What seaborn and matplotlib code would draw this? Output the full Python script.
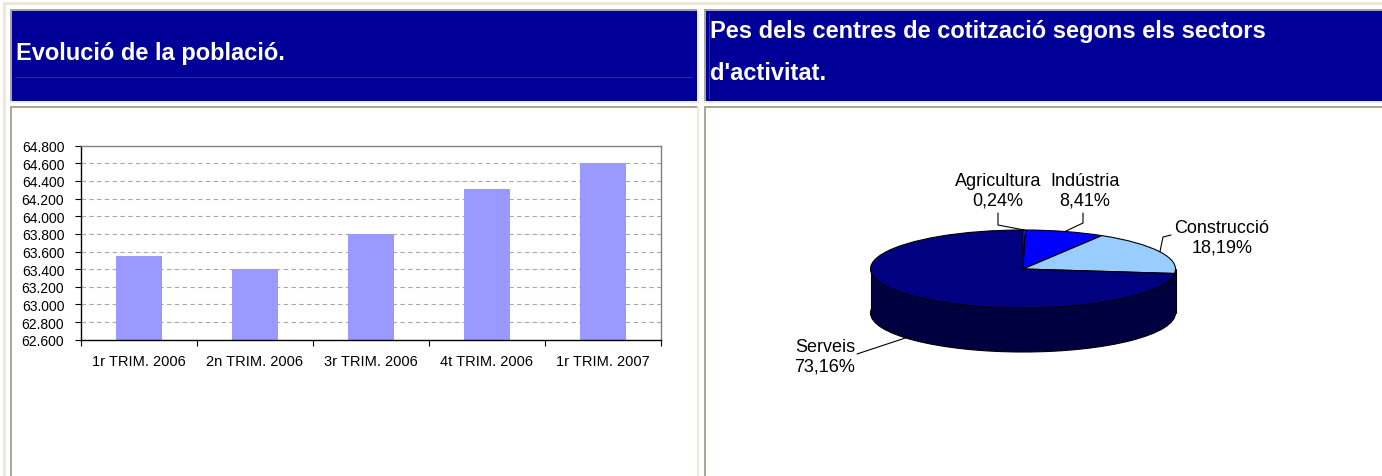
import matplotlib
matplotlib.use('Agg')
import matplotlib.pyplot as plt
from matplotlib.patches import Rectangle
from matplotlib.ticker import FuncFormatter
import numpy as np
import pandas as pd
import seaborn as sns

# ---------------- data ----------------
trimestres = ["1r TRIM. 2006", "2n TRIM. 2006", "3r TRIM. 2006", "4t TRIM. 2006", "1r TRIM. 2007"]
poblacio = [63550, 63400, 63800, 64310, 64600]
y_min, y_max, y_step = 62600, 64800, 200

sectors = ["Agricultura", "Indústria", "Construcció", "Serveis"]
pes = [0.24, 8.41, 18.19, 73.16]
pes_labels = ["0,24%", "8,41%", "18,19%", "73,16%"]

title_left = "Evolució de la població."
title_right = ["Pes dels centres de cotització segons els sectors", "d'activitat."]

# ---------------- style ----------------
W, H = 1382, 477
sns.set_style("white")
plt.rcParams['font.family'] = ['Liberation Sans', 'DejaVu Sans']

fig = plt.figure(figsize=(W / 100, H / 100), dpi=100, facecolor='white')


def fr(x0, y0, x1, y1):
    return [x0 / W, 1 - y1 / H, (x1 - x0) / W, (y1 - y0) / H]


# page background / table cells
bg = fig.add_axes([0, 0, 1, 1])
bg.set_xlim(0, W)
bg.set_ylim(H, 0)
bg.axis('off')
CREAM = '#ece9d8'
GREY = '#aca899'
BLUE = '#000099'


def rect(x0, y0, x1, y1, c):
    bg.add_patch(Rectangle((x0, y0), x1 - x0, y1 - y0, facecolor=c, edgecolor='none', lw=0))


rect(3, 3, W, 6, CREAM)
rect(3, 3, 6, H, CREAM)
for (x0, y0, x1, y1, fill) in [(10, 10, 699, 104, BLUE), (704, 10, W + 5, 104, BLUE),
                               (10, 107, 699, H + 5, 'white'), (704, 107, W + 5, H + 5, 'white')]:
    rect(x0, y0, x1, y1, CREAM)
    rect(x0, y0, x1 - 2, y1 - 2, GREY)
    rect(x0 + 2, y0 + 2, x1 - 2, y1 - 2, fill)

bg.plot([15, 692], [78, 78], color='#2a2aa8', lw=0.8)
bg.plot([709, 709], [14, 100], color='#3030aa', lw=0.8)

bg.text(16, 60, title_left, color='white', fontsize=17, fontweight='bold', va='baseline', ha='left')
bg.text(710, 38, title_right[0], color='white', fontsize=17, fontweight='bold', va='baseline', ha='left')
bg.text(710, 80, title_right[1], color='white', fontsize=17, fontweight='bold', va='baseline', ha='left')

# ---------------- bar chart ----------------
ax = fig.add_axes(fr(81, 146.7, 661, 340.7))
ax.patch.set_alpha(0)
df = pd.DataFrame({'trimestre': trimestres, 'poblacio': poblacio})
sns.barplot(data=df, x='trimestre', y='poblacio', color='#9999ff', saturation=1,
            width=0.4, ax=ax, edgecolor='none', zorder=2)
ax.set_ylim(y_min, y_max)
ax.set_xlim(-0.5, len(trimestres) - 0.5)
ticks = np.arange(y_min, y_max + 1, y_step)
ax.set_yticks(ticks)
ax.yaxis.set_major_formatter(FuncFormatter(lambda v, p: f"{int(round(v)):,}".replace(',', '.')))
for t in ticks[1:-1]:
    ax.axhline(t, color='#a8a8a8', lw=0.8, ls=(0, (4, 3)), zorder=0)
for s in ['left', 'bottom']:
    ax.spines[s].set_color('black')
    ax.spines[s].set_linewidth(1)
for s in ['top', 'right']:
    ax.spines[s].set_visible(True)
    ax.spines[s].set_color('#808080')
    ax.spines[s].set_linewidth(1)
ax.tick_params(axis='y', length=4, width=0.8, direction='out', labelsize=10, pad=8,
               color='black', labelcolor='black', left=True)
ax.tick_params(axis='x', which='major', length=0, labelsize=10.5, pad=10, labelcolor='black')
ax.set_xticks(np.arange(-0.5, len(trimestres), 1), minor=True)
ax.tick_params(axis='x', which='minor', length=4, width=0.8, direction='out', color='black', bottom=True)
ax.set_xlabel('')
ax.set_ylabel('')

# ---------------- 3D-like pie ----------------
px0, py0, px1, py1 = 760, 150, 1290, 400
pax = fig.add_axes(fr(px0, py0, px1, py1))
pax.patch.set_alpha(0)
cx, cy, rx, ry, depth = 1023, 270, 152.5, 39, 44
d = depth / ry
top_colors = ['#9999ff', '#0000ff', '#99ccff', '#000080']
wall_color = '#000040'
edge = dict(edgecolor='black', linewidth=0.8)

pax.pie([1], colors=[wall_color], center=(0, -d), wedgeprops=edge)
pax.add_patch(Rectangle((-1, -d), 2, d, facecolor=wall_color, edgecolor='none'))
pax.plot([-1, -1], [-d, 0], color='black', lw=0.8)
pax.plot([1, 1], [-d, 0], color='black', lw=0.8)
wedges, _ = pax.pie(pes, colors=top_colors, startangle=90, counterclock=False,
                    center=(0, 0), wedgeprops=edge)

pax.set_aspect('auto')
pax.set_xlim((px0 - cx) / rx, (px1 - cx) / rx)
pax.set_ylim(-(py1 - cy) / ry, (cy - py0) / ry)
pax.axis('off')


def p2d(px, py):
    return ((px - cx) / rx, (cy - py) / ry)


label_text_pos = [(998, 191), (1085, 191), (1222, 238), (825, 357)]
label_elbows = [[(998, 226), (998, 214)], [(1083, 224), (1083, 214)],
                [(1163, 238), (1171, 236)], [(857, 355)]]
for i, w in enumerate(wedges):
    th = np.deg2rad((w.theta1 + w.theta2) / 2)
    ax_, ay_ = np.cos(th), np.sin(th)
    if ay_ < 0:
        ay_ -= d * 0.95
    pts = [(ax_, ay_)] + [p2d(*e) for e in label_elbows[i]]
    xs, ys = zip(*pts)
    pax.plot(xs, ys, color='black', lw=0.8)
    tx, ty = p2d(*label_text_pos[i])
    pax.text(tx, ty, f"{sectors[i]}\n{pes_labels[i]}", ha='center', va='center',
             multialignment='center', fontsize=13, color='black')

fig.savefig('out.png', dpi=100, facecolor='white')
